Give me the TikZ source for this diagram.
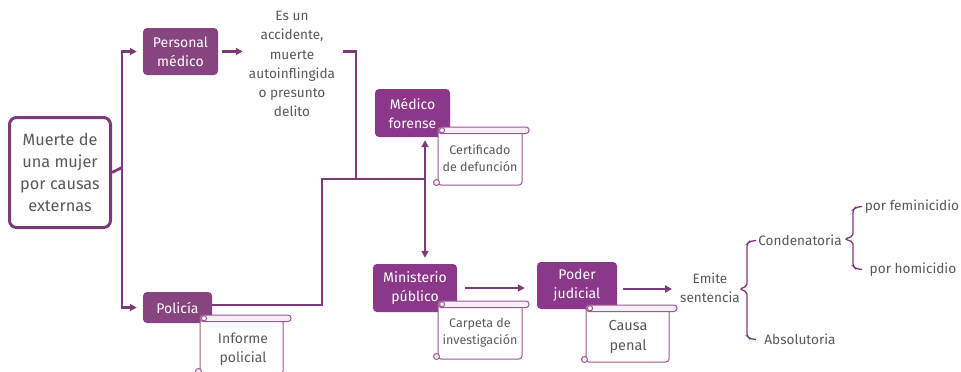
\documentclass[tikz,border=0pt]{standalone}
\usepackage{fontspec}
\setmainfont{Fira Sans}
\usetikzlibrary{arrows.meta}
\definecolor{boxA}{HTML}{86457F}
\definecolor{boxB}{HTML}{8B388A}
\definecolor{conncol}{HTML}{7D3A7A}
\definecolor{txt}{HTML}{555B5B}
\definecolor{rollfill}{HTML}{F7EEF6}
\definecolor{scrl}{HTML}{9A5A96}
\tikzset{
  pboxA/.style={fill=boxA, rounded corners=4pt, text=white, align=center, inner sep=0pt, font=\fontsize{14}{19}\selectfont},
  pboxB/.style={pboxA, fill=boxB},
  mainbox/.style={draw=conncol, line width=3pt, fill=white, rounded corners=7pt, text=txt, align=center, inner sep=0pt, font=\fontsize{16.3}{22.3}\selectfont},
  plain/.style={text=txt, align=center, inner sep=0pt, font=\fontsize{13.6}{19.2}\selectfont},
  scrolltext/.style={text=txt, align=center, inner sep=0pt, font=\fontsize{12.5}{17}\selectfont},
  conn/.style={draw=conncol, line width=2.8pt},
  tip/.tip={Triangle[length=7pt,width=7pt]},
  bracel/.style={draw=conncol, line width=1.3pt, rounded corners=2pt},
  scrollline/.style={draw=scrl, line width=1pt}
}
\newcommand\myscroll[5]{% left, top, roll right, body right, bottom
  \draw[scrollline, fill=white, rounded corners=3pt] (#1,#2+4) -- (#1,#5) -- (#4,#5) -- (#4,#2+4);
  \draw[scrollline, fill=rollfill, rounded corners=3pt] (#1,#2) rectangle (#3,#2+6.5);
  \draw[scrollline, fill=rollfill] (#1+4,#2+3.25) circle (2.6);
  \draw[scrollline, fill=rollfill] (#1-1.5,#5-2.5) circle (3);
}
\begin{document}
\begin{tikzpicture}[x=1pt,y=-1pt]
\path[use as bounding box, fill=white] (0,0) rectangle (961,372);
\begin{scope}
\clip (0,0) rectangle (961,372);
% main box
\node[mainbox, minimum width=101, minimum height=110] (main) at (60,172.5) {Muerte de\\una mujer\\por causas\\externas};
% boxes
\node[pboxA, minimum width=75, minimum height=47] (pm) at (180.5,51.5) {Personal\\médico};
\node[pboxA, minimum width=69, minimum height=31] (pol) at (177.5,307.5) {Policía};
\node[pboxB, minimum width=75, minimum height=48] (mf) at (412.5,113) {Médico\\forense};
\node[pboxB, minimum width=84, minimum height=48] (mp) at (415,288) {Ministerio\\público};
\node[pboxB, minimum width=80, minimum height=47] (pj) at (577,285.5) {Poder\\judicial};
% texts
\node[plain] (es) at (292,64) {Es un\\accidente,\\muerte\\autoinflingida\\o presunto\\delito};
\node[plain] (em) at (710,287.5) {Emite\\sentencia};
\node[plain] (cond) at (800,240) {Condenatoria};
\node[plain] (abs) at (800,339) {Absolutoria};
\node[plain] (fem) at (912,207) {por feminicidio};
\node[plain] (hom) at (913,270) {por homicidio};
% junctions
\coordinate (j1) at (122,167.5);
\coordinate (b1) at (356,179);
\coordinate (b2) at (322,179);
\coordinate (vx) at (425,179);
% connectors
\draw[conn] (main.east) -- (j1);
\draw[conn, -tip, shorten >=6pt] (j1) |- (pm.west);
\draw[conn, -tip, shorten >=6pt] (j1) |- (pol.west);
\draw[conn, -tip, shorten <=4pt, shorten >=6pt] (pm.east) -- (es.west |- pm.east);
\draw[conn] ([xshift=8pt]es.east |- pm.east) -| (b1);
\draw[conn] ([yshift=2.5pt]pol.east) -| (b2) -- (vx);
\draw[conn, tip-tip, shorten <=3pt, shorten >=6pt] (mf.south -| vx) -- (mp.north -| vx);
\draw[conn, -tip, shorten <=8pt, shorten >=12pt] (mp.east) -- (pj.west |- mp.east);
\draw[conn, -tip, shorten <=6pt, shorten >=8pt] ([yshift=-3.5pt]pj.east) -- ([yshift=-3.5pt]pj.east -| em.west);
% braces
\draw[bracel] (756,240.5) -- (749.5,241.5) -- (747,244) -- (747,286) -- (740,289) -- (747,292) -- (747,336) -- (749.5,338.5) -- (756,339.5);
\draw[bracel] (862,206.5) -- (855.5,207.5) -- (853,210) -- (853,236) -- (845,239) -- (853,242) -- (853,266) -- (855.5,268.5) -- (862,269.5);
% scrolls
\myscroll{438}{127}{529}{522}{185}
\node[scrolltext] (cert) at (480,158.5) {Certificado\\de defunción};
\myscroll{438}{301}{529}{522}{359}
\node[scrolltext] (carp) at (480,332.5) {Carpeta de\\investigación};
\myscroll{586}{305}{677}{669}{362}
\node[scrolltext, font=\fontsize{14.5}{20}\selectfont] (causa) at (628,337) {Causa\\penal};
\myscroll{200}{315}{291}{283}{374}
\node[scrolltext, font=\fontsize{14}{18.5}\selectfont] (inf) at (243,349) {Informe\\policial};
\end{scope}
\end{tikzpicture}
\end{document}
